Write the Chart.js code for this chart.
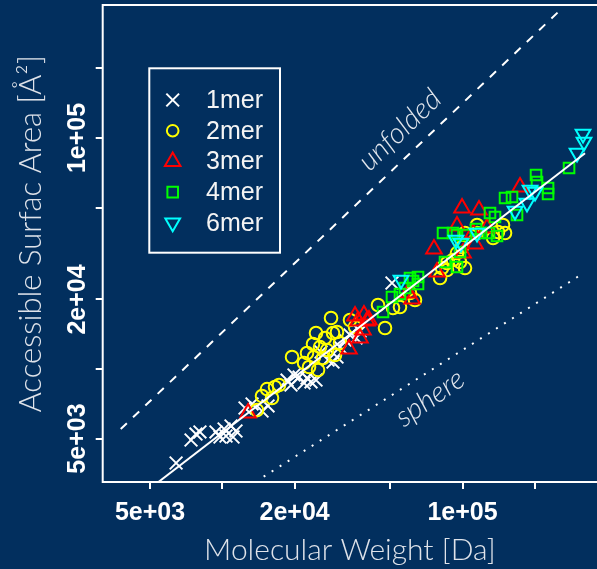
<!DOCTYPE html>
<html>
<head>
<meta charset="utf-8">
<script src="https://cdn.jsdelivr.net/npm/chart.js@4.4.1/dist/chart.umd.min.js"></script>
<style>
html,body{margin:0;padding:0;background:#022f5e;}
canvas{display:block;}
</style>
</head>
<body>
<canvas id="c" width="597" height="569"></canvas>
<script>
// ---- data ----
const seriesNames = ['1mer', '2mer', '3mer', '4mer', '6mer'];

const mer1X = [6420, 7410, 7770, 8070, 9410, 9780, 10170, 10360, 10870, 11080, 11400, 12430, 13300, 14630, 15500, 18600, 19320, 19880, 20870, 21890, 22520, 23400, 24550, 25760, 27540, 28890, 30020, 30900, 32420, 34000, 36020, 37420, 50850];
const mer1Y = [3920, 4930, 5230, 5340, 5340, 5080, 5500, 5130, 5670, 5080, 5390, 6780, 7060, 6580, 6920, 8960, 8530, 9420, 9230, 8700, 9140, 8790, 8960, 11850, 10940, 10720, 11270, 12450, 13350, 14040, 13620, 14600, 23570];

const mer2X = [13940, 14630, 15350, 16100, 16570, 17220, 19510, 21890, 22520, 22960, 23850, 24080, 24550, 25030, 25510, 26260, 26770, 27290, 28350, 28890, 29450, 30020, 30900, 34000, 35680, 44480, 47560, 51350, 54910, 60430, 63400, 80610, 82150, 86160, 86160, 91260, 94830, 97620, 99520, 102400, 102400, 114900, 114900, 134000, 140500, 147400, 150300];
const mer2Y = [6640, 7640, 8190, 7490, 8360, 8530, 11270, 10620, 11730, 10200, 12830, 11270, 14320, 9900, 12450, 11160, 13620, 12080, 16630, 14320, 11500, 14460, 12960, 16300, 15200, 18930, 15050, 18370, 18550, 21330, 19890, 24770, 27360, 28760, 26830, 29640, 31770, 29050, 33740, 38790, 27360, 42020, 38790, 36900, 39180, 42020, 38790];

const mer3X = [12800, 33680, 35680, 36710, 37420, 38510, 38880, 40010, 40790, 59300, 61620, 76060, 78300, 94830, 99520, 100500, 110600, 112700, 117100, 126400, 173500];
const mer3Y = [6450, 12210, 16960, 16140, 13620, 14750, 17130, 16140, 16300, 21330, 20090, 33070, 26300, 41590, 49770, 31770, 38790, 34760, 48780, 40770, 61360];

const mer4X = [46660, 50850, 54910, 57620, 60430, 62220, 65270, 65270, 82940, 84540, 91260, 94830, 97620, 103400, 113800, 119400, 128900, 130100, 136500, 139200, 150300, 160700, 168600, 202300, 204200, 227000, 227000, 277600, 94830];
const mer4Y = [17650, 20500, 21120, 22420, 24770, 24040, 25020, 23330, 38790, 29050, 38790, 27640, 32090, 38030, 40370, 38790, 38790, 47340, 45500, 37650, 55000, 55550, 46420, 69170, 64500, 60750, 57220, 74170, 38030];

const mer6X = [55440, 93950, 98530, 114900, 165400, 185500, 190900, 200400, 299700, 317400, 320400];
const mer6Y = [24280, 36170, 35110, 38790, 48310, 52320, 59560, 58380, 86120, 104100, 96100];

// reference lines
const fitX = [5420, 323600];
const fitY = [3243, 85950];
const unfoldedX = [3776, 252900];
const unfoldedY = [5497, 354800];
const sphereX = [14860, 305500];
const sphereY = [3420, 25290];

// axes
const xMin = 3177, xMax = 362900;
const yMin = 3243, yMax = 376500;
const xTicks = [5000, 10000, 20000, 50000, 100000, 200000];
const xTickLabels = ['5e+03', '', '2e+04', '', '1e+05', ''];
const yTicks = [5000, 10000, 20000, 50000, 100000, 200000];
const yTickLabels = ['5e+03', '', '2e+04', '', '1e+05', ''];

const xTitle = 'Molecular Weight [Da]';
const yTitle = '\u2002\u2009Accessible Surfac Area [Å²]';

const annotations = [
  { text: 'unfolded', x: 54900, y: 108300 },
  { text: 'sphere', x: 73190, y: 7488 }
];

// ---- build ----
const pts = (xs, ys) => xs.map((x, i) => ({ x: x, y: ys[i] }));

const datasets = [
  { label: seriesNames[0], data: pts(mer1X, mer1Y), pointStyle: 'crossRot', pointRadius: 9, borderColor: '#ffffff', backgroundColor: 'rgba(0,0,0,0)', pointBorderWidth: 2, order: 5, legend: true },
  { label: seriesNames[1], data: pts(mer2X, mer2Y), pointStyle: 'circle', pointRadius: 6.3, borderColor: '#ffff00', backgroundColor: 'rgba(0,0,0,0)', pointBorderWidth: 2, order: 4, legend: true },
  { label: seriesNames[2], data: pts(mer3X, mer3Y), pointStyle: 'triangle', pointRadius: 9, borderColor: '#ff0000', backgroundColor: 'rgba(0,0,0,0)', pointBorderWidth: 2, order: 3, legend: true },
  { label: seriesNames[3], data: pts(mer4X, mer4Y), pointStyle: 'rect', pointRadius: 7.5, borderColor: '#00ff00', backgroundColor: 'rgba(0,0,0,0)', pointBorderWidth: 2, order: 2, legend: true },
  { label: seriesNames[4], data: pts(mer6X, mer6Y), pointStyle: 'triangle', pointRotation: 180, pointRadius: 8.5, borderColor: '#00ffff', backgroundColor: 'rgba(0,0,0,0)', pointBorderWidth: 2, order: 1, legend: true },
  { label: 'fit', data: pts(fitX, fitY), showLine: true, pointRadius: 0, borderColor: '#ffffff', borderWidth: 2, order: 0 },
  { label: 'unfolded', data: pts(unfoldedX, unfoldedY), showLine: true, pointRadius: 0, borderColor: '#ffffff', borderWidth: 2, borderDash: [8.5, 8.5], order: 6 },
  { label: 'sphere', data: pts(sphereX, sphereY), showLine: true, pointRadius: 0, borderColor: '#ffffff', borderWidth: 2, borderDash: [2, 7.5], borderCapStyle: 'butt', order: 6 }
];

const boxPlugin = {
  id: 'rbox',
  afterDraw(chart) {
    const { ctx } = chart;
    const { left, top, right, bottom } = chart.chartArea;
    ctx.save();
    ctx.strokeStyle = '#ffffff';
    ctx.lineWidth = 2;
    ctx.beginPath();
    ctx.moveTo(right + 3, top);
    ctx.lineTo(left, top);
    ctx.lineTo(left, bottom);
    ctx.lineTo(right + 3, bottom);
    ctx.stroke();
    ctx.restore();
  }
};

const annoPlugin = {
  id: 'anno',
  afterDatasetsDraw(chart) {
    const { ctx, scales } = chart;
    const angles = { unfolded: 44, sphere: 35 };
    ctx.save();
    ctx.font = 'italic 300 29px Lato, "Open Sans", sans-serif';
    ctx.fillStyle = '#e3e7ee';
    ctx.textAlign = 'center';
    ctx.textBaseline = 'middle';
    annotations.forEach(a => {
      const px = scales.x.getPixelForValue(a.x);
      const py = scales.y.getPixelForValue(a.y);
      ctx.save();
      ctx.translate(px, py);
      ctx.rotate(-angles[a.text] * Math.PI / 180);
      ctx.fillText(a.text, 0, 0);
      ctx.restore();
    });
    ctx.restore();
  }
};

const legendPlugin = {
  id: 'rlegend',
  afterDraw(chart) {
    const { ctx } = chart;
    ctx.save();
    ctx.strokeStyle = '#ffffff';
    ctx.lineWidth = 2;
    ctx.strokeRect(149.3, 68.3, 130.7, 184.4);
    const rows = chart.data.datasets.filter(d => d.legend);
    rows.forEach((ds, i) => {
      const y = 100 + i * 30.7;
      ctx.strokeStyle = ds.borderColor;
      ctx.fillStyle = 'rgba(0,0,0,0)';
      ctx.lineWidth = 2;
      Chart.helpers.drawPoint(ctx, {
        pointStyle: ds.pointStyle,
        rotation: ds.pointRotation || 0,
        radius: ds.pointStyle === 'circle' ? 5.8 : ds.pointRadius,
        borderWidth: 2
      }, 172.7, y);
      ctx.fillStyle = '#f4f4f4';
      ctx.font = '25px "Liberation Sans", Arial, sans-serif';
      ctx.textAlign = 'left';
      ctx.textBaseline = 'middle';
      ctx.fillText(ds.label, 206, y + 1);
    });
    ctx.restore();
  }
};

const tickFont = { family: '"Liberation Sans", Arial, sans-serif', size: 25, weight: 'bold', lineHeight: 1.2 };
const xTitleFont = { family: 'Lato, "Open Sans", sans-serif', size: 30, weight: '300', lineHeight: 1.2 };
const yTitleFont = { family: 'Lato, "Open Sans", sans-serif', size: 31, weight: '300', lineHeight: 1.2 };

new Chart(document.getElementById('c'), {
  type: 'scatter',
  data: { datasets },
  plugins: [boxPlugin, annoPlugin, legendPlugin],
  options: {
    responsive: false,
    devicePixelRatio: 1,
    animation: false,
    events: [],
    layout: { autoPadding: false, padding: { top: 5, left: 0, right: 0, bottom: 0 } },
    plugins: { legend: { display: false }, tooltip: { enabled: false } },
    scales: {
      x: {
        type: 'logarithmic',
        min: xMin,
        max: xMax,
        afterBuildTicks: s => { s.ticks = xTicks.map(v => ({ value: v })); },
        afterFit: s => { s.height = 87; },
        ticks: {
          autoSkip: false, maxRotation: 0, minRotation: 0,
          color: '#ffffff', font: tickFont, padding: 9,
          callback: (v, i) => xTickLabels[i]
        },
        grid: { display: true, drawOnChartArea: false, drawTicks: true, tickLength: 7, color: '#ffffff', lineWidth: 2 },
        border: { display: false },
        title: { display: true, text: xTitle, color: '#dfe3ea', font: xTitleFont, padding: { top: 1, bottom: 1 } }
      },
      y: {
        type: 'logarithmic',
        min: yMin,
        max: yMax,
        afterBuildTicks: s => { s.ticks = yTicks.map(v => ({ value: v })); },
        afterFit: s => { s.width = 102.7; },
        ticks: {
          autoSkip: false, minRotation: 90, maxRotation: 90, crossAlign: 'center',
          color: '#ffffff', font: tickFont, padding: -18,
          callback: (v, i) => yTickLabels[i]
        },
        grid: { display: true, drawOnChartArea: false, drawTicks: true, tickLength: 7, color: '#ffffff', lineWidth: 2 },
        border: { display: false },
        title: { display: true, text: yTitle, color: '#dfe3ea', font: yTitleFont, padding: { top: 12, bottom: 12 } }
      }
    }
  }
});
</script>
</body>
</html>
